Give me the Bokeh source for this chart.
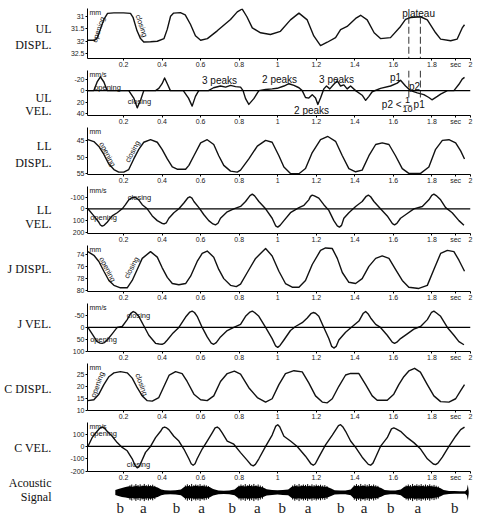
import math
from bokeh.plotting import figure
from bokeh.models import Range1d, FixedTicker, Label, Span
from bokeh.layouts import row, column
from bokeh.embed import file_html
from bokeh.resources import INLINE
from bokeh.core.properties import value

# ---------------- data ----------------
t_ticks = [0.2, 0.4, 0.6, 0.8, 1, 1.2, 1.4, 1.6, 1.8, 2]
t_tick_labels = ["0.2", "0.4", "0.6", "0.8", "1", "1.2", "1.4", "1.6", "1.8", "2"]
t_unit = "sec"

ul_disp_ticks = [31, 31.5, 32, 32.5]
ul_vel_ticks = [-20, 0, 20, 40]
ll_disp_ticks = [45, 50, 55]
ll_vel_ticks = [-100, 0, 100, 200]
j_disp_ticks = [74, 76, 78, 80]
j_vel_ticks = [-50, 0, 50, 100]
c_disp_ticks = [10, 15, 20, 25]
c_vel_ticks = [-200, -100, 0, 100]

ul_disp_t = [0.015, 0.05, 0.065, 0.08, 0.098, 0.117, 0.15, 0.2, 0.236, 0.25, 0.27, 0.288, 0.305, 0.34, 0.375,
             0.41, 0.427, 0.444, 0.46, 0.495, 0.52, 0.547, 0.573, 0.6, 0.635, 0.686, 0.755, 0.79, 0.815, 0.84,
             0.868, 0.911, 0.962, 1.014, 1.066, 1.11, 1.153, 1.187, 1.222, 1.257, 1.3, 1.326, 1.36, 1.404, 1.43,
             1.464, 1.5, 1.533, 1.585, 1.637, 1.663, 1.689, 1.741, 1.776, 1.819, 1.845, 1.897, 1.931, 1.957, 1.969]
ul_disp_mm = [31.97, 31.97, 31.85, 31.51, 31.11, 30.86, 30.84, 30.84, 30.86, 31.04, 31.58, 31.9, 32.04, 32.03, 32.01,
              31.9, 31.51, 30.98, 30.85, 30.83, 30.92, 31.31, 31.78, 31.97, 31.9, 31.58, 31.11, 30.8, 30.68, 31.0,
              31.46, 31.66, 31.73, 31.6, 31.13, 30.85, 31.13, 31.79, 32.19, 32.05, 31.86, 31.53, 31.4, 31.07, 30.94,
              31.13, 31.66, 31.9, 31.86, 31.4, 31.11, 31.03, 31.0, 31.13, 31.66, 31.92, 31.99, 31.92, 31.46, 31.33]

ul_vel_t = [0.015, 0.046, 0.063, 0.08, 0.098, 0.115, 0.227, 0.253, 0.271, 0.29,
            0.305, 0.366, 0.383, 0.4, 0.413, 0.427, 0.443, 0.51, 0.537, 0.556,
            0.573, 0.59, 0.64, 0.667, 0.703, 0.73, 0.755, 0.781, 0.807, 0.82,
            0.833, 0.85, 0.876, 0.902, 0.937, 0.971, 0.997, 1.032, 1.058, 1.084,
            1.11, 1.127, 1.144, 1.161, 1.179, 1.196, 1.208, 1.222, 1.239, 1.253,
            1.27, 1.291, 1.309, 1.326, 1.343, 1.36, 1.378, 1.404, 1.438, 1.456,
            1.473, 1.49, 1.533, 1.585, 1.62, 1.637, 1.663, 1.689, 1.724, 1.758,
            1.784, 1.8, 1.828, 1.845, 1.88, 1.914, 1.94, 1.957, 1.969]
ul_vel_mms = [0, 0, -15, -24, -15, 0, 0, 13, 30, 15,
              0, 0, -4, -12, -22, -12, 0, 0, 13, 27,
              10, 0, 0, -5, -8, -6, -9, -7, -6, 0,
              14, 24, 14, 0, -2, -3, -4, -8, -12, -9,
              -5, 0, 12, 13, 7, 13, 24, 13, -3, -8,
              -3, -11, -17, -8, -10, -3, -8, 0, 8, 17,
              10, 2, -4, -8, -13, -18, -8, 0, 4, 7,
              12, 16, 10, 6, 0, 0, -11, -20, -23]

ll_disp_t = [0.015, 0.046, 0.072, 0.098, 0.124, 0.15, 0.175, 0.201, 0.227, 0.253,
             0.279, 0.305, 0.34, 0.375, 0.4, 0.427, 0.453, 0.478, 0.522, 0.539,
             0.565, 0.6, 0.634, 0.668, 0.694, 0.72, 0.755, 0.79, 0.807, 0.85,
             0.894, 0.937, 0.971, 1.006, 1.032, 1.066, 1.11, 1.144, 1.179, 1.222,
             1.26, 1.3, 1.335, 1.369, 1.404, 1.438, 1.473, 1.508, 1.542, 1.577,
             1.611, 1.646, 1.68, 1.741, 1.784, 1.819, 1.854, 1.888, 1.923, 1.949, 1.969]
ll_disp_mm = [44.6, 45.2, 46.7, 49.2, 52.2, 53.9, 54.7, 54.7, 53.9, 50.6,
              47.6, 45.4, 44.6, 45.4, 47.6, 50.6, 53.1, 53.8, 53.8, 52.6,
              49.6, 45.6, 44.6, 46.1, 49.6, 52.6, 54.4, 54.7, 54.1, 50.6,
              46.6, 44.8, 45.4, 49.6, 53.1, 55.1, 55.2, 53.6, 48.6, 44.6,
              43.6, 45.1, 49.6, 53.6, 54.6, 54.1, 49.6, 46.1, 45.6, 46.1,
              49.6, 53.6, 55.1, 55.1, 53.1, 47.6, 44.8, 44.6, 45.6, 48.1, 50.6]

ll_vel_t = [0.015, 0.046, 0.072, 0.08, 0.089, 0.099, 0.115, 0.141, 0.167, 0.193,
            0.21, 0.227, 0.242, 0.253, 0.265, 0.279, 0.297, 0.323, 0.349, 0.375,
            0.398, 0.41, 0.422, 0.435, 0.461, 0.487, 0.513, 0.533, 0.544, 0.555,
            0.565, 0.591, 0.617, 0.642, 0.664, 0.677, 0.69, 0.703, 0.738, 0.772,
            0.807, 0.833, 0.856, 0.868, 0.88, 0.902, 0.937, 0.971, 0.989, 1.0,
            1.012, 1.032, 1.066, 1.11, 1.136, 1.161, 1.17, 1.179, 1.19, 1.213,
            1.239, 1.265, 1.291, 1.309, 1.32, 1.331, 1.343, 1.369, 1.404, 1.438,
            1.459, 1.47, 1.482, 1.499, 1.533, 1.568, 1.595, 1.606, 1.618, 1.637,
            1.672, 1.706, 1.75, 1.784, 1.799, 1.81, 1.822, 1.845, 1.871, 1.905, 1.94, 1.966]
ll_vel_mms = [0, 60, 114, 137, 146, 140, 114, 60, 33, 0,
              -35, -76, -93, -98, -92, -76, -35, 0, 60, 100,
              122, 128, 118, 80, 33, 0, -49, -92, -102, -90,
              -62, -10, 50, 100, 128, 136, 122, 80, 25, 0,
              -20, -62, -112, -124, -110, -62, 0, 80, 144, 155,
              140, 100, 33, -10, -30, -76, -105, -116, -110, -90,
              -35, 13, 100, 144, 155, 140, 80, 33, -20, -62,
              -106, -116, -102, -62, 0, 60, 126, 136, 124, 80,
              40, 0, -20, -76, -114, -124, -112, -76, -10, 33, 100, 140]

j_disp_t = [0.015, 0.046, 0.072, 0.098, 0.124, 0.15, 0.184, 0.219, 0.245, 0.271,
            0.297, 0.34, 0.375, 0.4, 0.427, 0.453, 0.487, 0.522, 0.548, 0.582,
            0.608, 0.634, 0.668, 0.694, 0.72, 0.755, 0.785, 0.807, 0.842, 0.885,
            0.937, 0.971, 1.006, 1.04, 1.075, 1.11, 1.144, 1.179, 1.222, 1.248,
            1.283, 1.309, 1.335, 1.369, 1.404, 1.438, 1.473, 1.508, 1.542, 1.577,
            1.611, 1.646, 1.68, 1.732, 1.776, 1.81, 1.845, 1.88, 1.914, 1.94, 1.969]
j_disp_mm = [73.6, 74.2, 75.2, 76.8, 78.3, 79.1, 79.5, 79.5, 78.3, 76.5,
             74.7, 73.6, 74.5, 76.2, 77.8, 78.8, 79.0, 78.8, 77.6, 75.2,
             73.9, 73.5, 74.5, 76.5, 78.0, 79.1, 79.3, 78.9, 77.0, 74.7,
             73.1, 74.3, 76.8, 78.8, 79.4, 79.4, 78.3, 75.7, 73.4, 73.0,
             73.1, 74.7, 77.0, 78.6, 78.8, 78.0, 76.0, 74.7, 74.3, 74.7,
             76.5, 78.3, 79.4, 79.6, 79.1, 76.5, 73.9, 73.4, 73.6, 75.0, 76.8]

j_vel_t = [0.015, 0.037, 0.063, 0.078, 0.089, 0.1, 0.115, 0.141, 0.167, 0.193,
           0.219, 0.238, 0.25, 0.262, 0.279, 0.305, 0.331, 0.366, 0.385, 0.4,
           0.413, 0.427, 0.453, 0.487, 0.522, 0.544, 0.556, 0.568, 0.582, 0.608,
           0.634, 0.655, 0.668, 0.681, 0.703, 0.738, 0.772, 0.807, 0.833, 0.856,
           0.868, 0.88, 0.902, 0.937, 0.971, 0.989, 1.0, 1.012, 1.032, 1.066,
           1.092, 1.127, 1.153, 1.172, 1.184, 1.196, 1.213, 1.239, 1.265, 1.28,
           1.291, 1.303, 1.317, 1.352, 1.387, 1.421, 1.444, 1.456, 1.468, 1.482,
           1.508, 1.533, 1.568, 1.594, 1.606, 1.618, 1.637, 1.672, 1.706, 1.741,
           1.776, 1.798, 1.81, 1.822, 1.845, 1.88, 1.914, 1.94, 1.966]
j_vel_mms = [0, 27, 60, 66, 67, 64, 53, 27, 0, -4,
             -33, -60, -67, -62, -47, -7, 33, 67, 70, 71,
             66, 53, 27, 0, -44, -65, -69, -63, -47, 0,
             40, 66, 71, 64, 40, 13, 0, -13, -47, -65,
             -69, -63, -47, 0, 47, 78, 84, 76, 53, 13,
             -4, -20, -40, -58, -63, -60, -47, 0, 47, 80,
             87, 80, 53, 20, -4, -27, -60, -67, -58, -40,
             -13, 0, 33, 62, 67, 62, 47, 27, 7, -4,
             -33, -64, -69, -62, -47, 0, 33, 60, 73]

c_disp_t = [0.015, 0.046, 0.072, 0.098, 0.124, 0.15, 0.184, 0.219, 0.245, 0.271,
            0.297, 0.323, 0.349, 0.383, 0.41, 0.437, 0.47, 0.504, 0.53, 0.565,
            0.6, 0.634, 0.668, 0.703, 0.738, 0.775, 0.807, 0.85, 0.894, 0.937,
            0.971, 1.006, 1.04, 1.084, 1.127, 1.161, 1.196, 1.231, 1.257, 1.283,
            1.317, 1.352, 1.378, 1.421, 1.456, 1.49, 1.516, 1.568, 1.602, 1.628,
            1.654, 1.68, 1.71, 1.74, 1.776, 1.81, 1.845, 1.888, 1.923, 1.949, 1.969]
c_disp_mm = [13.9, 14.3, 16.6, 20.6, 23.9, 25.5, 26.0, 25.5, 23.3, 19.3,
             15.9, 13.9, 13.7, 15.2, 19.9, 24.6, 26.0, 25.2, 21.9, 16.6,
             14.3, 13.9, 15.9, 21.9, 25.2, 26.2, 25.0, 19.3, 15.2, 13.3,
             14.7, 20.6, 25.2, 26.4, 25.9, 21.3, 15.9, 13.3, 13.0, 14.7,
             19.9, 24.6, 25.3, 25.2, 20.6, 15.9, 14.1, 14.1, 16.6, 20.6,
             23.9, 26.3, 27.4, 25.8, 20.6, 15.9, 13.5, 13.3, 14.7, 18.1, 20.6]

c_vel_t = [0.015, 0.037, 0.063, 0.078, 0.089, 0.1, 0.115, 0.141, 0.167, 0.193,
           0.219, 0.245, 0.26, 0.271, 0.28, 0.288, 0.314, 0.34, 0.366, 0.392,
           0.403, 0.413, 0.424, 0.435, 0.461, 0.487, 0.513, 0.539, 0.551, 0.561,
           0.571, 0.582, 0.608, 0.634, 0.66, 0.675, 0.686, 0.697, 0.712, 0.738,
           0.772, 0.807, 0.842, 0.862, 0.873, 0.884, 0.902, 0.937, 0.971, 0.99,
           1.0, 1.01, 1.032, 1.066, 1.101, 1.144, 1.173, 1.184, 1.195, 1.213,
           1.248, 1.283, 1.315, 1.326, 1.337, 1.352, 1.378, 1.404, 1.438, 1.47,
           1.482, 1.494, 1.508, 1.533, 1.568, 1.59, 1.602, 1.614, 1.637, 1.672,
           1.706, 1.741, 1.776, 1.807, 1.819, 1.831, 1.854, 1.888, 1.923, 1.949, 1.969]
c_vel_mms = [0, 71, 123, 150, 157, 150, 123, 83, 31, -8,
             -35, -100, -155, -173, -165, -140, -48, 0, 71, 123,
             150, 157, 150, 136, 83, 44, -21, -100, -140, -152,
             -140, -100, -21, 44, 110, 150, 157, 145, 110, 44,
             18, -50, -113, -150, -157, -145, -100, 0, 92, 165,
             176, 160, 83, 44, 0, -79, -142, -152, -140, -87,
             13, 92, 168, 176, 160, 123, 44, -8, -87, -145,
             -152, -135, -87, 0, 71, 142, 150, 142, 123, 71,
             31, -21, -100, -142, -147, -135, -87, 0, 83, 136, 157]

# acoustic signal envelope (upper / lower excursion)
acoustic_t = [0.013, 0.03, 0.05, 0.07, 0.09, 0.11, 0.13, 0.15, 0.17, 0.19,
              0.21, 0.23, 0.25, 0.27, 0.29, 0.32, 0.35, 0.38, 0.40, 0.42,
              0.44, 0.46, 0.48, 0.50, 0.52, 0.54, 0.56, 0.59, 0.62, 0.65,
              0.68, 0.70, 0.72, 0.74, 0.76, 0.78, 0.80, 0.82, 0.84, 0.86,
              0.89, 0.92, 0.95, 0.98, 1.00, 1.02, 1.04, 1.06, 1.08, 1.10,
              1.12, 1.14, 1.16, 1.18, 1.20, 1.22, 1.24, 1.27, 1.30, 1.33,
              1.345, 1.36, 1.38, 1.40, 1.42, 1.44, 1.46, 1.48, 1.50, 1.52,
              1.55, 1.58, 1.61, 1.63, 1.65, 1.67, 1.69, 1.71, 1.73, 1.75,
              1.77, 1.79, 1.81, 1.83, 1.85, 1.88, 1.91, 1.94, 1.97, 1.98,
              1.985, 1.99]
acoustic_hi = [0.25, 0.35, 0.45, 0.55, 0.62, 0.58, 0.66, 0.6, 0.68, 0.62,
               0.66, 0.6, 0.5, 0.3, 0.22, 0.2, 0.22, 0.3, 0.58, 0.65,
               0.6, 0.68, 0.62, 0.66, 0.6, 0.55, 0.35, 0.2, 0.18, 0.2,
               0.3, 0.6, 0.66, 0.6, 0.68, 0.62, 0.66, 0.58, 0.5, 0.32,
               0.25, 0.22, 0.25, 0.3, 0.58, 0.66, 0.6, 0.68, 0.62, 0.66,
               0.6, 0.66, 0.62, 0.58, 0.55, 0.4, 0.22, 0.2, 0.2, 0.3,
               0.6, 0.68, 0.62, 0.68, 0.6, 0.66, 0.62, 0.58, 0.45, 0.25,
               0.2, 0.2, 0.3, 0.58, 0.66, 0.6, 0.68, 0.62, 0.66, 0.6,
               0.64, 0.6, 0.55, 0.45, 0.25, 0.15, 0.14, 0.13, 0.12, 0.3,
               0.8, 0.1]
acoustic_lo = [-0.25, -0.35, -0.45, -0.5, -0.58, -0.55, -0.6, -0.56, -0.62, -0.58,
               -0.62, -0.56, -0.45, -0.28, -0.2, -0.18, -0.2, -0.28, -0.55, -0.6,
               -0.58, -0.62, -0.6, -0.62, -0.56, -0.5, -0.3, -0.18, -0.16, -0.18,
               -0.28, -0.55, -0.6, -0.58, -0.62, -0.58, -0.6, -0.55, -0.45, -0.3,
               -0.24, -0.2, -0.24, -0.28, -0.55, -0.62, -0.58, -0.62, -0.6, -0.62,
               -0.58, -0.62, -0.58, -0.55, -0.5, -0.36, -0.2, -0.18, -0.18, -0.28,
               -0.56, -0.62, -0.6, -0.64, -0.58, -0.62, -0.58, -0.55, -0.42, -0.24,
               -0.18, -0.18, -0.28, -0.55, -0.62, -0.58, -0.62, -0.6, -0.62, -0.58,
               -0.6, -0.56, -0.5, -0.4, -0.22, -0.14, -0.13, -0.12, -0.12, -0.3,
               -0.8, -0.1]

# individual peaks of the waveform poking out of the vowel bursts
acoustic_peak_t = [0.095, 0.105, 0.118, 0.128, 0.14, 0.152, 0.163, 0.175, 0.186, 0.198, 0.21, 0.222, 0.234,
                   0.405, 0.416, 0.428, 0.44, 0.452, 0.463, 0.475, 0.487, 0.499, 0.51, 0.522, 0.534,
                   0.705, 0.716, 0.728, 0.74, 0.752, 0.764, 0.776, 0.788, 0.8, 0.812, 0.824, 0.836,
                   1.005, 1.017, 1.029, 1.041, 1.053, 1.065, 1.077, 1.089, 1.101, 1.113, 1.125, 1.137,
                   1.149, 1.161, 1.173, 1.185, 1.197,
                   1.35, 1.362, 1.374, 1.386, 1.398, 1.41, 1.422, 1.434, 1.446, 1.458, 1.47, 1.482,
                   1.64, 1.652, 1.664, 1.676, 1.688, 1.7, 1.712, 1.724, 1.736, 1.748, 1.76, 1.772,
                   1.784, 1.796, 1.808, 1.82]
acoustic_peak_amp = [0.72, 0.8, 0.7, 0.84, 0.75, 0.82, 0.7, 0.86, 0.74, 0.8, 0.72, 0.78, 0.66,
                     0.7, 0.82, 0.74, 0.86, 0.72, 0.8, 0.76, 0.84, 0.7, 0.78, 0.72, 0.64,
                     0.68, 0.8, 0.74, 0.84, 0.72, 0.82, 0.76, 0.86, 0.72, 0.8, 0.7, 0.62,
                     0.7, 0.82, 0.74, 0.86, 0.72, 0.8, 0.76, 0.84, 0.7, 0.82, 0.74, 0.8,
                     0.72, 0.78, 0.7, 0.74, 0.64,
                     0.72, 0.84, 0.74, 0.86, 0.72, 0.82, 0.76, 0.84, 0.7, 0.8, 0.72, 0.66,
                     0.7, 0.8, 0.74, 0.86, 0.72, 0.82, 0.76, 0.84, 0.72, 0.8, 0.74, 0.82,
                     0.7, 0.76, 0.68, 0.6]

syllable_t = [0.04, 0.17, 0.355, 0.495, 0.667, 0.807, 0.947, 1.092, 1.274, 1.404, 1.554, 1.705, 1.912]
syllables = ["b", "a", "b", "a", "b", "a", "b", "a", "b", "a", "b", "a", "b"]

plateau_t = [1.68, 1.74]
plateau_level_mm = 31.0

row_names = ["UL", "DISPL.", "UL", "VEL.", "LL", "DISPL.", "LL", "VEL.",
             "J DISPL.", "J VEL.", "C DISPL.", "C VEL.", "Acoustic", "Signal"]
row_name_y = [28, 44, 97, 110, 145, 162, 209, 223, 268, 323, 388, 447, 482, 496]

# ---------------- styling / layout ----------------
SANS = "Liberation Sans"
SERIF = "Liberation Serif"
INK = "#111111"
LEFTW = 57          # width of the row-label column
PW = 479 - LEFTW    # width of each panel canvas
X0, X1 = 0.013, 2.0
xr = Range1d(X0, X1)
PX_PER_S = 383 / (X1 - X0)


def tx(px):
    return (px - 84.5) / 192.7


SEC_T = tx(455)   # where the "sec" unit sits on the time axis


def panel(top_px, bot_px, top_val, bot_val, ticks, unit, border_top=0):
    fh = bot_px - top_px
    p = figure(width=PW, height=fh + 10 + border_top, x_range=xr, y_range=Range1d(bot_val, top_val),
               output_backend="svg", toolbar_location=None,
               min_border_left=30, min_border_right=PW - 30 - 383,
               min_border_top=border_top, min_border_bottom=10)
    p.outline_line_color = None
    p.grid.visible = False
    xa = p.xaxis[0]
    xa.ticker = FixedTicker(ticks=t_ticks + [SEC_T])
    overrides = dict(zip(t_ticks, t_tick_labels))
    overrides[SEC_T] = t_unit
    xa.major_label_overrides = overrides
    xa.major_label_text_font = SANS
    xa.major_label_text_font_size = "7px"
    xa.major_label_text_color = "#222222"
    xa.major_label_standoff = 0
    xa.major_tick_out = 2
    xa.major_tick_in = 0
    xa.minor_tick_line_color = None
    xa.axis_line_color = "black"
    ya = p.yaxis[0]
    ya.ticker = FixedTicker(ticks=ticks)
    ya.major_label_overrides = {v: f"{v:g}" for v in ticks}
    ya.major_label_text_font = SANS
    ya.major_label_text_font_size = "7px"
    ya.major_label_text_color = "#222222"
    ya.major_label_standoff = 1
    ya.major_tick_out = 2
    ya.major_tick_in = 0
    ya.minor_tick_line_color = None
    ya.axis_line_color = "black"

    def conv(y):
        return top_val + (y - top_px) / (bot_px - top_px) * (bot_val - top_val)

    p.add_layout(Label(x=tx(89), y=conv(top_px), text=unit, text_font=SANS, text_color=INK,
                       text_font_size="7px", text_baseline="top", text_align="left"))
    return p, conv


def note(p, conv, x, y, text, size=7.5, angle_deg=0, align="center"):
    p.add_layout(Label(x=tx(x), y=conv(y), text=text, text_font=SANS, text_color=INK,
                       text_font_size=f"{size}px", text_align=align, text_baseline="middle",
                       angle=math.radians(angle_deg)))


LW = 1.4
CURVE = "#111111"

# 1. UL displacement
p1, c1 = panel(8, 60, 30.66, 32.72, ul_disp_ticks, "mm", border_top=8)
p1.line(ul_disp_t, ul_disp_mm, line_width=LW, color=CURVE, line_join="round")
p1.segment(x0=plateau_t, y0=[plateau_level_mm] * 2, x1=plateau_t, y1=[32.72] * 2,
           line_dash="7 3", line_color="#333333", line_width=1)
note(p1, c1, 98, 30, "opening", angle_deg=72)
note(p1, c1, 141, 26, "closing", angle_deg=-72)
note(p1, c1, 418, 13.5, "plateau", size=10)

# 2. UL velocity
p2, c2 = panel(70, 117, -35, 43.3, ul_vel_ticks, "mm/s")
p2.add_layout(Span(location=0, dimension="width", line_color="black", line_width=1.2))
p2.line(ul_vel_t, ul_vel_mms, line_width=LW, color=CURVE, line_join="round")
p2.segment(x0=plateau_t, y0=[-35] * 2, x1=plateau_t, y1=[15] * 2,
           line_dash="7 3", line_color="#333333", line_width=1)
note(p2, c2, 107, 88, "opening")
note(p2, c2, 139, 102, "closing")
note(p2, c2, 219, 80, "3 peaks", size=10)
note(p2, c2, 279, 79, "2 peaks", size=10)
note(p2, c2, 336, 79, "3 peaks", size=10)
note(p2, c2, 311, 112, "2 peaks", size=10)
note(p2, c2, 395, 77, "p1", size=10)
note(p2, c2, 414, 87, "p2", size=10)
note(p2, c2, 401, 106, "p2 <", size=10, align="right")
note(p2, c2, 407, 100.5, "1", size=9)
note(p2, c2, 407, 105.3, "\u2014", size=8)
note(p2, c2, 407, 110.5, "10", size=9)
note(p2, c2, 413, 106, "p1", size=10, align="left")

# 3. LL displacement
p3, c3 = panel(127, 176, 40.8, 55.45, ll_disp_ticks, "mm")
p3.line(ll_disp_t, ll_disp_mm, line_width=LW, color=CURVE, line_join="round")
note(p3, c3, 107, 155, "opening", angle_deg=-62)
note(p3, c3, 132, 152, "closing", angle_deg=62)

# 4. LL velocity
p4, c4 = panel(186, 235, -189, 209, ll_vel_ticks, "mm/s")
p4.add_layout(Span(location=0, dimension="width", line_color="black", line_width=1.2))
p4.line(ll_vel_t, ll_vel_mms, line_width=LW, color=CURVE, line_join="round")
note(p4, c4, 139, 197, "closing")
note(p4, c4, 103, 218, "opening")

# 5. J displacement
p5, c5 = panel(245, 293, 72.6, 80.1, j_disp_ticks, "mm")
p5.line(j_disp_t, j_disp_mm, line_width=LW, color=CURVE, line_join="round")
note(p5, c5, 107, 270, "opening", angle_deg=-62)
note(p5, c5, 131, 268, "closing", angle_deg=62)

# 6. J velocity
p6, c6 = panel(303, 353, -101, 101.5, j_vel_ticks, "mm/s")
p6.add_layout(Span(location=0, dimension="width", line_color="black", line_width=1.2))
p6.line(j_vel_t, j_vel_mms, line_width=LW, color=CURVE, line_join="round")
note(p6, c6, 138, 315, "closing")
note(p6, c6, 103, 340, "opening")

# 7. C displacement
p7, c7 = panel(363, 412, 29.4, 9.8, c_disp_ticks, "mm")
p7.line(c_disp_t, c_disp_mm, line_width=LW, color=CURVE, line_join="round")
note(p7, c7, 97, 385, "opening", angle_deg=70)
note(p7, c7, 141, 385, "closing", angle_deg=-70)

# 8. C velocity
p8, c8 = panel(422, 473, 194, -203, c_vel_ticks, "mm/s")
p8.add_layout(Span(location=0, dimension="width", line_color="black", line_width=1.2))
p8.line(c_vel_t, c_vel_mms, line_width=LW, color=CURVE, line_join="round")
note(p8, c8, 103, 433, "opening")
note(p8, c8, 138, 466, "closing")

# 9. Acoustic signal (frame starts at the row-label column so letters are not clipped)
ac_x0 = X0 - 30 / PX_PER_S
p9 = figure(width=PW, height=37, x_range=Range1d(ac_x0, X1), y_range=Range1d(-2.8, 0.9),
            output_backend="svg", toolbar_location=None,
            x_axis_location=None, y_axis_location=None,
            min_border_left=0, min_border_right=PW - 30 - 383,
            min_border_top=0, min_border_bottom=0)
p9.outline_line_color = None
p9.grid.visible = False
p9.varea(x=acoustic_t, y1=acoustic_lo, y2=acoustic_hi, color="black")
p9.segment(x0=acoustic_peak_t, y0=[-a for a in acoustic_peak_amp],
           x1=acoustic_peak_t, y1=acoustic_peak_amp, line_color="black", line_width=1)
p9.text(x=syllable_t, y=[-1.5] * len(syllable_t), text=syllables,
        text_font=value(SERIF), text_font_size="15px", text_align="center",
        text_baseline="middle", text_color="#222222")

# left column with row labels (page pixel coordinates)
lf = figure(width=LEFTW, height=520, x_range=Range1d(0, LEFTW), y_range=Range1d(520, 0),
            output_backend="svg", toolbar_location=None,
            x_axis_location=None, y_axis_location=None, min_border=0)
lf.outline_line_color = None
lf.grid.visible = False
lf.text(x=[51] * len(row_names), y=row_name_y, text=row_names,
        text_font=value(SERIF), text_font_size="12px", text_align="right",
        text_baseline="middle", text_color=INK)

layout = row(lf, column(p1, p2, p3, p4, p5, p6, p7, p8, p9))
open("out.html", "w").write(file_html(layout, INLINE, title="articulator movements"))
